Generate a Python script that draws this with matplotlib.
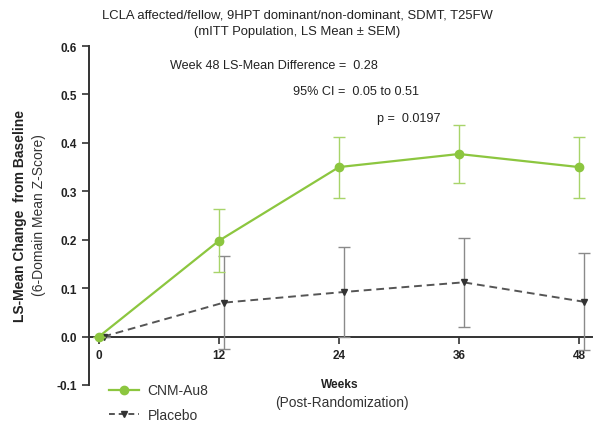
import matplotlib
matplotlib.use('Agg')
import matplotlib.pyplot as plt
from matplotlib.lines import Line2D

plt.rcParams['font.family'] = ['Liberation Sans', 'DejaVu Sans']

# data
weeks = [0, 12, 24, 36, 48]
cnm_mean = [0.0, 0.198, 0.350, 0.377, 0.350]
cnm_sem = [0.0, 0.065, 0.063, 0.060, 0.063]
pla_mean = [0.0, 0.070, 0.092, 0.112, 0.072]
pla_sem = [0.0, 0.096, 0.093, 0.092, 0.100]
pla_shift = 0.45  # placebo drawn a little to the right

green = '#8CC63F'
grey = '#555555'

fig = plt.figure(figsize=(6.02, 4.27), dpi=100)
ax = fig.add_axes([89/602, 1-386/427, (592-89)/602, (386-47)/427])

ax.errorbar(weeks, cnm_mean, yerr=cnm_sem, color=green, lw=1.6, marker='o', ms=6,
            ecolor='#A8D46A', elinewidth=1.0, capsize=4, capthick=1.0, zorder=4)
ax.errorbar([w + pla_shift for w in weeks], pla_mean, yerr=pla_sem, color=grey, lw=1.4,
            ls=(0, (4, 2.5)), marker='v', ms=5, mfc='#333333', mec='#333333',
            ecolor='#8a8a8a', elinewidth=1.0, capsize=4, capthick=1.0, zorder=3)

ax.set_xlim(-1, 49.3)
ax.set_ylim(-0.1, 0.6)
ax.set_yticks([-0.1, 0.0, 0.1, 0.2, 0.3, 0.4, 0.5, 0.6])
ax.set_yticklabels(['-0.1', '0.0', '0.1', '0.2', '0.3', '0.4', '0.5', '0.6'])
ax.set_xticks(weeks)
ax.spines['top'].set_visible(False)
ax.spines['right'].set_visible(False)
ax.spines['bottom'].set_position(('data', 0))
for s in ['left', 'bottom']:
    ax.spines[s].set_color('#333333')
    ax.spines[s].set_linewidth(1.4)
ax.tick_params(axis='both', colors='#333333', width=1.2, length=5, labelsize=8.5)
ax.tick_params(axis='x', pad=4)
for lab in ax.get_xticklabels() + ax.get_yticklabels():
    lab.set_fontweight('bold')
    lab.set_color('#222222')

# titles and labels
fig.text(297/602, 1-15/427, 'LCLA affected/fellow, 9HPT dominant/non-dominant, SDMT, T25FW',
         ha='center', va='center', fontsize=9.4, color='#222222')
fig.text(297/602, 1-32/427, '(mITT Population, LS Mean \u00b1 SEM)',
         ha='center', va='center', fontsize=9.4, color='#222222')
fig.text(20/602, 1-216/427, 'LS-Mean Change  from Baseline', rotation=90, ha='center',
         va='center', fontsize=10, fontweight='bold', color='#222222')
fig.text(39/602, 1-215/427, '(6-Domain Mean Z-Score)', rotation=90, ha='center',
         va='center', fontsize=10, color='#333333')
fig.text(340/602, 1-385/427, 'Weeks', ha='center', va='center', fontsize=8.6,
         fontweight='bold', color='#222222')
fig.text(342/602, 1-403/427, '(Post-Randomization)', ha='center', va='center',
         fontsize=9.9, color='#333333')

# stats box text
fig.text(170/602, 1-66/427, 'Week 48 LS-Mean Difference =  0.28', ha='left', va='center',
         fontsize=9.1, color='#222222')
fig.text(293/602, 1-92/427, '95% CI =  0.05 to 0.51', ha='left', va='center',
         fontsize=9.1, color='#222222')
fig.text(377/602, 1-119/427, 'p =  0.0197', ha='left', va='center',
         fontsize=9.1, color='#222222')

handles = [Line2D([], [], color=green, lw=1.6, marker='o', ms=6),
           Line2D([], [], color=grey, lw=1.4, ls=(0, (3, 2)), marker='v', ms=5,
                  mfc='#333333', mec='#333333')]
fig.legend(handles, ['CNM-Au8', 'Placebo'], loc='upper left',
           bbox_to_anchor=(96/602, 1-372/427), frameon=False, fontsize=10,
           handlelength=2.2, labelspacing=0.75, handletextpad=0.6,
           labelcolor='#333333')

fig.savefig('out.png', dpi=100)
